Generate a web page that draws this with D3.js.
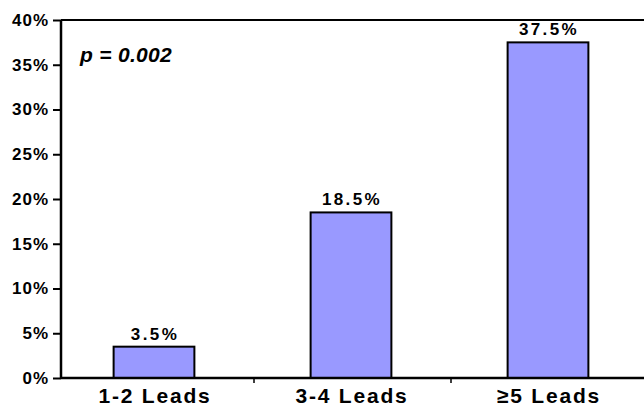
<!DOCTYPE html>
<html><head><meta charset="utf-8">
<script src="https://cdn.jsdelivr.net/npm/d3@7"></script>
<style>body{margin:0;background:#fff}svg{display:block;font-family:"Liberation Sans",Arial,sans-serif}</style>
</head><body>
<script>
const categories = ["1-2 Leads", "3-4 Leads", "\u22655 Leads"];
const values = [3.5, 18.5, 37.5];
const valueLabels = ["3.5%", "18.5%", "37.5%"];
const yTicks = [0, 5, 10, 15, 20, 25, 30, 35, 40];
const annotation = "p = 0.002";

const W = 644, H = 409;
const svg = d3.select("body").append("svg").attr("width", W).attr("height", H);

const x = d3.scaleBand().domain(categories).range([57, 648]).padding(0);
const y = d3.scaleLinear().domain([0, 40]).range([378, 20]);
const barW = x.bandwidth() * 0.41;
const axisX = 61;

// bars
svg.selectAll("rect.bar").data(values).join("rect")
  .attr("class", "bar")
  .attr("x", (d, i) => x(categories[i]) + x.bandwidth() / 2 - barW / 2 - 1.5)
  .attr("width", barW)
  .attr("y", d => y(d))
  .attr("height", d => y(0) - y(d))
  .attr("fill", "#9999ff")
  .attr("stroke", "#000")
  .attr("stroke-width", 2);

// value labels
svg.selectAll("text.val").data(values).join("text")
  .attr("class", "val")
  .attr("x", (d, i) => x(categories[i]) + x.bandwidth() / 2 - 0.5)
  .attr("y", d => y(d) - 7)
  .attr("text-anchor", "middle")
  .attr("font-size", 17).attr("font-weight", "bold")
  .attr("letter-spacing", 2.4)
  .text((d, i) => valueLabels[i]);

// y axis
const yAxis = d3.axisLeft(y).tickValues(yTicks).tickSize(8).tickFormat(d => d + "%");
const gy = svg.append("g").attr("transform", `translate(${axisX},0)`).call(yAxis);
gy.select(".domain").remove();
gy.selectAll(".tick line").attr("stroke", "#000").attr("stroke-width", 2);
gy.selectAll(".tick text").attr("font-size", 17).attr("font-weight", "bold")
  .attr("fill", "#000").attr("font-family", "'Liberation Sans',Arial,sans-serif")
  .attr("letter-spacing", 1).attr("x", -12);
svg.append("line").attr("x1", axisX).attr("x2", axisX).attr("y1", y(40)).attr("y2", y(0) + 1)
  .attr("stroke", "#000").attr("stroke-width", 2.5);

// top line and baseline
svg.append("line").attr("x1", axisX).attr("x2", W).attr("y1", y(40)).attr("y2", y(40))
  .attr("stroke", "#000").attr("stroke-width", 2);
svg.append("line").attr("x1", axisX).attr("x2", W).attr("y1", y(0)).attr("y2", y(0))
  .attr("stroke", "#000").attr("stroke-width", 2.5);

// category separator ticks
svg.selectAll("line.sep").data(categories.slice(1)).join("line")
  .attr("class", "sep")
  .attr("x1", d => x(d)).attr("x2", d => x(d))
  .attr("y1", y(0)).attr("y2", y(0) + 5)
  .attr("stroke", "#000").attr("stroke-width", 1.5);

// category labels
svg.selectAll("text.cat").data(categories).join("text")
  .attr("class", "cat")
  .attr("x", d => x(d) + x.bandwidth() / 2 - 0.5)
  .attr("y", 403)
  .attr("text-anchor", "middle")
  .attr("font-size", 21).attr("font-weight", "bold")
  .attr("letter-spacing", 1.8)
  .text(d => d);

// annotation
svg.append("text").attr("x", 80).attr("y", 62)
  .attr("font-size", 21).attr("font-weight", "bold").attr("font-style", "italic")
  .attr("letter-spacing", 0.3)
  .text(annotation);
</script>
</body></html>
